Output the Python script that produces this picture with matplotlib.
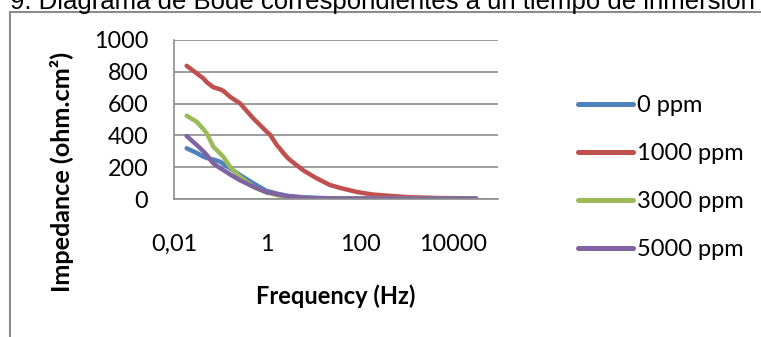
import matplotlib
matplotlib.use("Agg")
import matplotlib.pyplot as plt
from matplotlib.patches import Rectangle
from matplotlib.ticker import FixedLocator, NullLocator

# Frequency sweep (Hz) and impedance modulus (ohm.cm²) for each concentration
frequency = [0.0187, 0.0307, 0.0427, 0.0505, 0.070, 0.0975, 0.115, 0.16, 0.223,
             0.262, 0.507, 0.986, 1.16, 1.62, 2.65, 3.13, 6.04, 11.7, 22.6, 37,
             86, 190, 1020, 5250, 31300]
z_0ppm = [319, 290, 266, 258, 248, 235, 220, 193, 165, 151, 99, 50, 46, 34, 21,
          18, 11, 7, 5, 4, 3, 3, 3, 3, 3]
z_1000ppm = [838, 790, 759, 735, 703, 690, 680, 643, 615, 602, 507, 423, 405,
             340, 265, 245, 180, 130, 88, 70, 44, 28, 12, 6, 4]
z_3000ppm = [524, 486, 440, 413, 329, 287, 265, 203, 160, 140, 77, 40, 36, 25,
             14, 12, 7, 5, 4, 3, 3, 3, 3, 3, 3]
z_5000ppm = [396, 340, 300, 277, 224, 195, 182, 155, 130, 118, 77, 42, 40, 30,
             19, 16, 8, 5, 4, 3, 3, 3, 3, 3, 3]

series_labels = ["0 ppm", "1000 ppm", "3000 ppm", "5000 ppm"]
series_values = [z_0ppm, z_1000ppm, z_3000ppm, z_5000ppm]
series_colors = ["#4F81BD", "#C0504D", "#9BBB59", "#8064A2"]

x_ticks = [0.01, 1, 100, 10000]
x_tick_labels = ["0,01", "1", "100", "10000"]
y_ticks = [0, 200, 400, 600, 800, 1000]

title = "9. Diagrama de Bode correspondientes a un tiempo de inmersión"

W, H = 761, 337
fig = plt.figure(figsize=(W / 100, H / 100), dpi=100)

# outer chart frame (runs off the right and bottom edges)
fig.patches.append(Rectangle((10 / W, -0.05), 1.2, 1 - 12 / H + 0.05,
                             transform=fig.transFigure, fill=False,
                             edgecolor="#8c8c8c", linewidth=1.5))

# caption line sitting above the chart frame
fig.text(755 / W, 1 - 9 / H, title, ha="right", va="baseline",
         fontsize=18.5, family="Liberation Sans", color="black")

ax = fig.add_axes([174 / W, 1 - 199 / H, 324 / W, 159 / H])
for values, color, label in zip(series_values, series_colors, series_labels):
    ax.plot(frequency, values, color=color, linewidth=3.2, label=label,
            solid_capstyle="round", solid_joinstyle="round")

ax.set_xscale("log")
ax.set_xlim(0.01, 10 ** (324 / 46.5 - 2))
ax.set_ylim(0, 1000)
ax.xaxis.set_major_locator(FixedLocator(x_ticks))
ax.xaxis.set_minor_locator(NullLocator())
ax.set_xticklabels(x_tick_labels)
ax.set_yticks(y_ticks)
ax.tick_params(axis="both", length=0, labelsize=16.8)
ax.tick_params(axis="x", pad=25)
ax.tick_params(axis="y", pad=18.5)
for lbl in ax.get_xticklabels() + ax.get_yticklabels():
    lbl.set_family("Lato")

ax.yaxis.grid(True, color="#8c8c8c", linewidth=1.2)
ax.set_axisbelow(True)
for side in ("top", "right"):
    ax.spines[side].set_visible(False)
for side in ("left", "bottom"):
    ax.spines[side].set_color("#8c8c8c")
    ax.spines[side].set_linewidth(1.2)

ax.set_xlabel("Frequency (Hz)", fontsize=17, fontweight="bold", family="Lato",
              va="center", ha="center")
ax.xaxis.set_label_coords(336 / W, 1 - 296 / H, transform=fig.transFigure)
ax.set_ylabel("Impedance (ohm.cm²)", fontsize=18.2, fontweight="bold",
              family="Lato", va="center", ha="center")
ax.yaxis.set_label_coords(62 / W, 1 - 172 / H, transform=fig.transFigure)

leg = ax.legend(loc="upper left", bbox_to_anchor=(578 / W, 1 - 95 / H),
                bbox_transform=fig.transFigure, frameon=False,
                prop={"family": "Lato", "size": 17}, handlelength=2.33,
                handletextpad=0.17, labelspacing=1.15, borderaxespad=0,
                borderpad=0)
for line in leg.get_lines():
    line.set_linewidth(3.6)

fig.savefig("out.png", dpi=100)
